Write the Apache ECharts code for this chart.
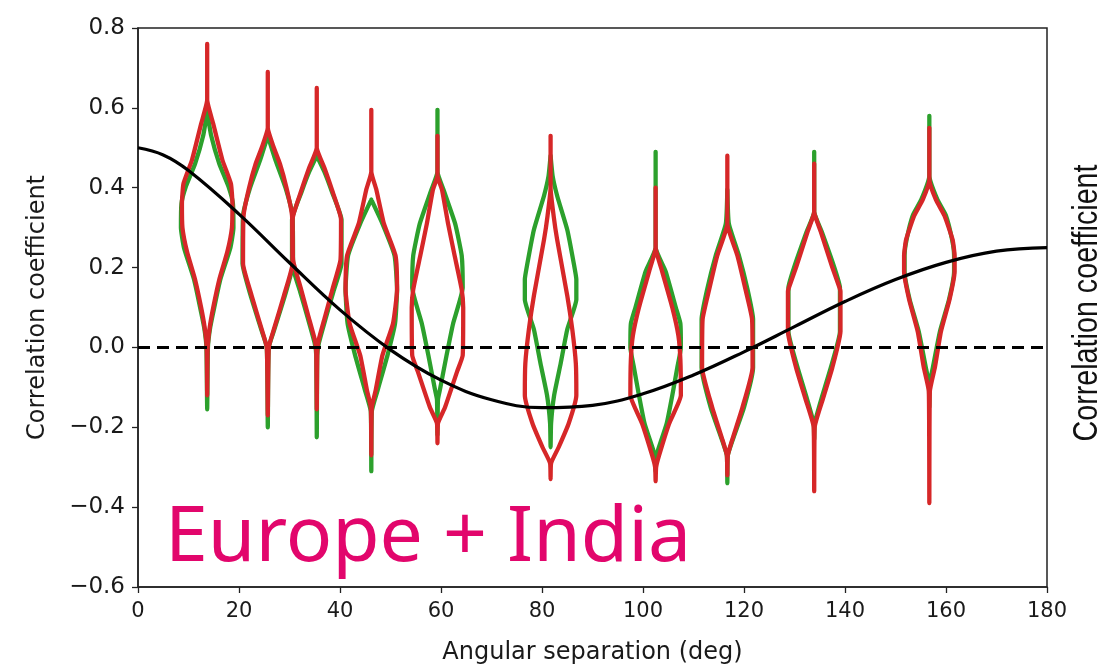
<!DOCTYPE html>
<html>
<head>
<meta charset="utf-8">
<script src="https://cdn.jsdelivr.net/npm/echarts@6/dist/echarts.min.js"></script>
<style>
html,body{margin:0;padding:0;background:#fff;}
#chart{width:1106px;height:670px;}
</style>
</head>
<body>
<div id="chart"></div>
<script>
// ---------- data ----------
const xTicks = [0, 20, 40, 60, 80, 100, 120, 140, 160, 180];
const yTicks = [-0.6, -0.4, -0.2, 0.0, 0.2, 0.4, 0.6, 0.8];

// expected correlation curve
const curveAngles = [0, 5, 10, 20, 30, 40, 50, 60, 70, 80, 90, 100, 110, 120, 130, 140, 150, 160, 170, 180];
const curveValues = [0.500, 0.482, 0.443, 0.334, 0.212, 0.094, -0.006, -0.082, -0.131, -0.151, -0.145, -0.116, -0.069, -0.011, 0.052, 0.115, 0.170, 0.213, 0.241, 0.250];

// zero reference line
const zeroLineX = [0, 180];
const zeroLineY = [0, 0];

// violin positions (deg)
const violinCenters = [13.7, 25.7, 35.4, 46.2, 59.3, 81.7, 102.5, 116.7, 133.9, 156.7];

// violin profiles: [correlation value, half-width in deg], top to bottom
const greenProfiles = [
  [[0.59,0],[0.53,0.8],[0.46,2.4],[0.40,4.3],[0.36,5.1],[0.30,5.2],[0.25,4.6],[0.17,2.6],[0.10,1.4],[0.05,0.6],[0.0,0.15],[-0.155,0]],
  [[0.53,0],[0.47,1.5],[0.40,3.5],[0.33,4.9],[0.21,5.0],[0.13,3.4],[0.045,1.3],[0.0,0.2],[-0.20,0]],
  [[0.48,0],[0.44,1.5],[0.39,3.0],[0.32,4.9],[0.21,4.9],[0.14,3.3],[0.07,1.7],[0.01,0.4],[-0.02,0.1],[-0.225,0]],
  [[0.37,0],[0.31,2.2],[0.23,4.6],[0.145,5.1],[0.06,4.7],[-0.02,3.2],[-0.105,1.3],[-0.16,0.1],[-0.31,0]],
  [[0.595,0],[0.44,0],[0.395,1.2],[0.31,3.5],[0.23,4.8],[0.15,5.0],[0.06,3.1],[-0.02,1.8],[-0.105,0.5],[-0.13,0.1],[-0.22,0]],
  [[0.48,0],[0.43,0.4],[0.38,1.3],[0.295,3.3],[0.21,4.6],[0.17,5.1],[0.12,5.1],[0.045,3.3],[-0.04,2.0],[-0.12,0.7],[-0.19,0.1],[-0.25,0]],
  [[0.49,0],[0.25,0],[0.19,2.0],[0.10,4.0],[0.06,4.9],[0.0,5.0],[-0.05,4.3],[-0.12,3.3],[-0.19,2.2],[-0.26,0.4],[-0.28,0.1],[-0.31,0]],
  [[0.395,0],[0.31,0.3],[0.23,2.3],[0.145,4.0],[0.07,5.1],[-0.05,5.1],[-0.15,3.3],[-0.23,1.1],[-0.27,0.1],[-0.34,0]],
  [[0.49,0],[0.34,0],[0.29,1.5],[0.20,4.0],[0.15,5.1],[0.04,5.1],[-0.05,3.3],[-0.13,1.4],[-0.19,0.1],[-0.23,0]],
  [[0.58,0],[0.43,0],[0.37,1.6],[0.33,3.3],[0.27,4.5],[0.23,4.9],[0.19,4.9],[0.12,3.9],[0.04,2.1],[-0.05,0.7],[-0.09,0.1],[-0.15,0]]
];
const redProfiles = [
  [[0.76,0],[0.62,0],[0.56,1.2],[0.47,3.0],[0.41,4.7],[0.36,5.0],[0.30,4.9],[0.24,4.0],[0.17,2.4],[0.10,1.2],[0.05,0.5],[0.0,0.1],[-0.12,0]],
  [[0.69,0],[0.55,0],[0.50,1.2],[0.46,2.4],[0.40,3.7],[0.33,4.8],[0.21,4.9],[0.13,3.2],[0.045,1.2],[0.0,0.2],[-0.17,0]],
  [[0.65,0],[0.50,0],[0.45,1.5],[0.395,3.0],[0.32,4.8],[0.22,4.7],[0.15,3.2],[0.08,1.7],[0.02,0.4],[-0.01,0.1],[-0.155,0]],
  [[0.595,0],[0.44,0],[0.395,1.0],[0.31,2.5],[0.23,4.8],[0.145,5.1],[0.06,4.3],[-0.02,2.2],[-0.105,0.9],[-0.15,0.1],[-0.27,0]],
  [[0.53,0],[0.43,0],[0.395,0.9],[0.31,2.1],[0.23,3.4],[0.145,4.8],[0.10,5.1],[-0.02,5.0],[-0.06,3.9],[-0.15,1.5],[-0.19,0.1],[-0.24,0]],
  [[0.53,0],[0.40,0],[0.33,0.6],[0.27,1.3],[0.13,3.3],[0.045,4.3],[-0.04,5.0],[-0.12,5.1],[-0.19,3.6],[-0.25,1.6],[-0.29,0.1],[-0.33,0]],
  [[0.40,0],[0.25,0],[0.19,1.3],[0.10,3.3],[0.03,4.5],[-0.03,4.9],[-0.12,5.0],[-0.19,2.7],[-0.27,0.7],[-0.30,0.1],[-0.335,0]],
  [[0.48,0],[0.31,0],[0.23,2.0],[0.145,3.6],[0.07,4.9],[-0.05,5.0],[-0.15,3.0],[-0.23,1.0],[-0.27,0.1],[-0.32,0]],
  [[0.46,0],[0.34,0],[0.29,1.3],[0.20,3.6],[0.15,5.0],[0.14,5.2],[0.04,5.2],[-0.05,3.6],[-0.13,1.7],[-0.20,0.1],[-0.36,0]],
  [[0.55,0],[0.42,0],[0.37,1.3],[0.33,3.0],[0.27,4.6],[0.23,5.0],[0.19,5.0],[0.12,4.0],[0.04,2.3],[-0.05,1.1],[-0.11,0.1],[-0.39,0]]
];

const xLabel = 'Angular separation (deg)';
const yLabel = 'Correlation coefficient';
const rightLabel = 'Correlation coefficient';
const overlayText = 'Europe + India';

// ---------- chart ----------
const GREEN = '#2ca02c';
const RED = '#d62728';

function outline(c, prof) {
  const right = prof.map(([v, w]) => [c + w, v]);
  const left = prof.slice().reverse().map(([v, w]) => [c - w, v]);
  return right.concat(left);
}

const series = [];
violinCenters.forEach((c, i) => {
  series.push({
    type: 'line', data: outline(c, greenProfiles[i]), showSymbol: false, silent: true, smooth: 0.15,
    lineStyle: { color: GREEN, width: 4.3, join: 'round', cap: 'round' }, z: 2
  });
});
violinCenters.forEach((c, i) => {
  series.push({
    type: 'line', data: outline(c, redProfiles[i]), showSymbol: false, silent: true, smooth: 0.15,
    lineStyle: { color: RED, width: 4.3, join: 'round', cap: 'round' }, z: 3
  });
});
series.push({
  type: 'line', data: zeroLineX.map((x, i) => [x, zeroLineY[i]]), showSymbol: false, silent: true,
  lineStyle: { color: '#000', width: 3, type: [12, 7] }, z: 4
});
series.push({
  type: 'line', data: curveAngles.map((x, i) => [x, curveValues[i]]), showSymbol: false, silent: true,
  smooth: 0.4, lineStyle: { color: '#000', width: 3.2 }, z: 5
});

const tickFont = { fontFamily: 'DejaVu Sans', fontSize: 21, color: '#1a1a1a' };

const chart = echarts.init(document.getElementById('chart'), null, { renderer: 'canvas' });
chart.setOption({
  animation: false,
  backgroundColor: '#fff',
  grid: { left: 138, right: 59, top: 28, bottom: 82, show: true, borderColor: '#222', borderWidth: 1.5, backgroundColor: 'transparent' },
  xAxis: {
    type: 'value', min: xTicks[0], max: xTicks[xTicks.length - 1], interval: xTicks[1] - xTicks[0],
    splitLine: { show: false },
    axisLine: { show: true, onZero: false, lineStyle: { color: '#222', width: 1.5 } },
    axisTick: { show: true, length: 6, lineStyle: { color: '#222', width: 1.3 } },
    axisLabel: Object.assign({ margin: 14 }, tickFont),
    name: xLabel, nameLocation: 'middle', nameGap: 54,
    nameTextStyle: { fontFamily: 'DejaVu Sans', fontSize: 24, color: '#1a1a1a' }
  },
  yAxis: {
    type: 'value', min: yTicks[0], max: yTicks[yTicks.length - 1], interval: 0.2,
    splitLine: { show: false },
    axisLine: { show: true, onZero: false, lineStyle: { color: '#222', width: 1.5 } },
    axisTick: { show: true, length: 6, lineStyle: { color: '#222', width: 1.3 } },
    axisLabel: Object.assign({
      margin: 13,
      formatter: v => (v < -1e-9 ? '\u2212' : '') + Math.abs(v).toFixed(1)
    }, tickFont, { fontSize: 23 }),
    name: yLabel, nameLocation: 'middle', nameGap: 88, nameRotate: 90,
    nameTextStyle: { fontFamily: 'DejaVu Sans', fontSize: 24, color: '#1a1a1a' }
  },
  graphic: [
    {
      type: 'text', x: 165, y: 539, z: 10,
      style: { text: overlayText, fontFamily: 'Noto Sans', fontSize: 77, fill: '#e2066c', textVerticalAlign: 'middle', textAlign: 'left' }
    },
    {
      type: 'text', x: 1087, y: 303, rotation: Math.PI / 2, scaleX: 0.82, z: 10,
      style: { text: rightLabel, fontFamily: 'Liberation Sans', fontSize: 35, fill: '#111', textAlign: 'center', textVerticalAlign: 'middle' }
    }
  ],
  series: series
});
</script>
</body>
</html>
